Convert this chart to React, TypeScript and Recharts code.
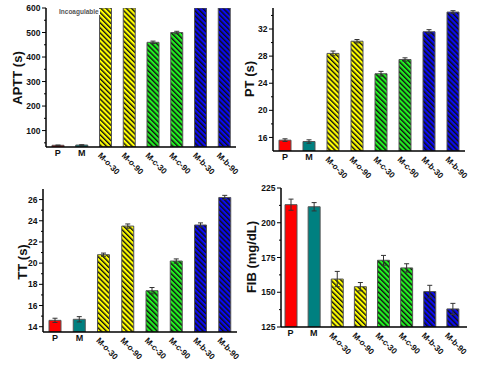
import React from "react"
import { BarChart, Bar, XAxis, YAxis, Cell, ErrorBar } from "recharts"

const categories = ["P", "M", "M-o-30", "M-o-90", "M-c-30", "M-c-90", "M-b-30", "M-b-90"]

const apttValues = [40, 41, 600, 600, 460, 500, 600, 600]
const apttErrors = [1, 1, 0, 0, 5, 5, 0, 0]
const apttMajor = [100, 200, 300, 400, 500, 600]
const apttMinor = [50, 150, 250, 350, 450, 550]

const ptValues = [15.6, 15.4, 28.4, 30.2, 25.4, 27.5, 31.6, 34.5]
const ptErrors = [0.2, 0.25, 0.35, 0.25, 0.35, 0.25, 0.3, 0.2]
const ptMajor = [16, 20, 24, 28, 32]
const ptMinor = [18, 22, 26, 30, 34]

const ttValues = [14.6, 14.7, 20.8, 23.5, 17.4, 20.2, 23.6, 26.2]
const ttErrors = [0.2, 0.25, 0.15, 0.2, 0.3, 0.2, 0.2, 0.2]
const ttMajor = [14, 16, 18, 20, 22, 24, 26]
const ttMinor = [15, 17, 19, 21, 23, 25]

const fibValues = [213, 211.5, 159.5, 154, 173, 167.5, 150.5, 138]
const fibErrors = [4, 3, 5.5, 3, 3.5, 3, 4.5, 4]
const fibMajor = [125, 150, 175, 200, 225]
const fibMinor = [137.5, 162.5, 187.5, 212.5]

const FILLS = ["#ff0000", "#008080", "yellow", "yellow", "green", "green", "blue", "blue"]
const BASE = { yellow: "#ffff00", green: "#22f022", blue: "#0a0af0" }

const FONT = "'Liberation Sans', Arial, sans-serif"

function YTick({ x, y, payload, majors }: any) {
  const major = majors.includes(payload.value)
  return (
    <g>
      <line x1={x} x2={x - (major ? 4 : 2)} y1={y} y2={y} stroke="#000" strokeWidth={1} />
      {major && (
        <text x={x - 5.5} y={y} dy={3.1} textAnchor="end" fontSize={8.5} fontWeight="bold" fontFamily={FONT} fill="#111">
          {payload.value}
        </text>
      )}
    </g>
  )
}

function XTick({ x, y, payload }: any) {
  const v = payload.value
  if (v === "P" || v === "M") {
    return (
      <text x={x} y={y + 8.5} textAnchor="middle" fontSize={9} fontWeight="bold" fontFamily={FONT} fill="#111">
        {v}
      </text>
    )
  }
  return (
    <g transform={`translate(${x - 8}, ${y + 9}) rotate(45)`}>
      <text x={0} y={0} textAnchor="start" fontSize={8.3} fontWeight="bold" fontFamily={FONT} fill="#111">
        {v}
      </text>
    </g>
  )
}

interface PanelProps {
  id: string
  values: number[]
  errors: number[]
  domain: [number, number]
  majors: number[]
  minors: number[]
  left: number
  top: number
  width: number
  height: number
  yWidth: number
  xHeight: number
  margin: { top: number; right: number }
  padding?: { left: number; right: number }
}

function Panel({ id, values, errors, domain, majors, minors, left, top, width, height, yWidth, xHeight, margin, padding }: PanelProps) {
  const data = categories.map((name, i) => ({ name, value: values[i], err: errors[i] }))
  const ticks = [...majors, ...minors].sort((a, b) => a - b)
  return (
    <div style={{ position: "absolute", left, top, width, height }}>
      <BarChart width={width} height={height} data={data} margin={{ top: margin.top, right: margin.right, left: 0, bottom: 0 }} barSize={12}>
        <defs>
          {(["yellow", "green", "blue"] as const).map((c) => (
            <pattern key={c} id={`${id}-${c}`} patternUnits="userSpaceOnUse" width={3.6} height={3.6} patternTransform="rotate(-45)">
              <rect width={3.6} height={3.6} fill={BASE[c]} />
              <line x1={0.7} x2={0.7} y1={0} y2={3.6} stroke="#111" strokeWidth={1.4} />
            </pattern>
          ))}
        </defs>
        <XAxis
          dataKey="name"
          height={xHeight}
          interval={0}
          tickSize={0}
          tickMargin={0}
          tick={<XTick />}
          axisLine={{ stroke: "#000", strokeWidth: 1.5 }}
          padding={padding}
        />
        <XAxis xAxisId="t" dataKey="name" orientation="top" height={0} tick={false} tickLine={false} axisLine={{ stroke: "#444", strokeWidth: 1.5 }} padding={padding} />
        <YAxis
          type="number"
          domain={domain}
          allowDataOverflow
          ticks={ticks}
          interval={0}
          width={yWidth}
          tickSize={0}
          tickMargin={0}
          tick={<YTick majors={majors} />}
          axisLine={{ stroke: "#000", strokeWidth: 1.5 }}
        />
        <YAxis yAxisId="r" orientation="right" width={0} tick={false} tickLine={false} axisLine={{ stroke: "#444", strokeWidth: 1.5 }} />
        <Bar dataKey="value" stroke="#555" strokeWidth={1} isAnimationActive={false}>
          {data.map((d, i) => {
            const f = FILLS[i]
            const fill = f.startsWith("#") ? f : `url(#${id}-${f})`
            return <Cell key={d.name} fill={fill} />
          })}
          <ErrorBar dataKey="err" width={2.5} strokeWidth={1} stroke="#333" direction="y" />
        </Bar>
      </BarChart>
    </div>
  )
}

function AxisTitle({ text, cx, cy }: { text: string; cx: number; cy: number }) {
  return (
    <div
      style={{
        position: "absolute",
        left: cx,
        top: cy,
        transform: "translate(-50%, -50%) rotate(-90deg)",
        fontFamily: FONT,
        fontWeight: "bold",
        fontSize: 13,
        whiteSpace: "nowrap",
        color: "#111",
        lineHeight: 1,
      }}
    >
      {text}
    </div>
  )
}

export default function App() {
  return (
    <div style={{ position: "absolute", left: 0, top: 0, width: 500, height: 369, background: "#fff", overflow: "hidden" }}>
      <Panel id="aptt" values={apttValues} errors={apttErrors} domain={[33, 600]} majors={apttMajor} minors={apttMinor}
        left={0} top={0} width={250} height={185} yWidth={46} xHeight={38} margin={{ top: 8, right: 14 }} />
      <Panel id="pt" values={ptValues} errors={ptErrors} domain={[14, 35.1]} majors={ptMajor} minors={ptMinor}
        left={250} top={0} width={250} height={185} yWidth={23} xHeight={34} margin={{ top: 8, right: 35 }} />
      <Panel id="tt" values={ttValues} errors={ttErrors} domain={[13.5, 27]} majors={ttMajor} minors={ttMinor}
        left={0} top={185} width={250} height={184} yWidth={43} xHeight={37} margin={{ top: 4, right: 13 }} />
      <Panel id="fib" values={fibValues} errors={fibErrors} domain={[125, 225]} majors={fibMajor} minors={fibMinor}
        left={250} top={180} width={250} height={189} yWidth={31} xHeight={42} margin={{ top: 8, right: 33 }} padding={{ left: -2, right: 3 }} />
      <AxisTitle text="APTT (s)" cx={17} cy={78} />
      <AxisTitle text="PT (s)" cx={249} cy={79} />
      <AxisTitle text="TT (s)" cx={22} cy={262} />
      <AxisTitle text="FIB (mg/dL)" cx={251} cy={257} />
      <div
        style={{
          position: "absolute",
          left: 58,
          top: 9,
          fontFamily: FONT,
          fontWeight: "bold",
          fontSize: 6.5,
          color: "#555",
          background: "#fff",
          lineHeight: "6px",
          padding: "0 1px",
        }}
      >
        Incoagulable
      </div>
    </div>
  )
}
